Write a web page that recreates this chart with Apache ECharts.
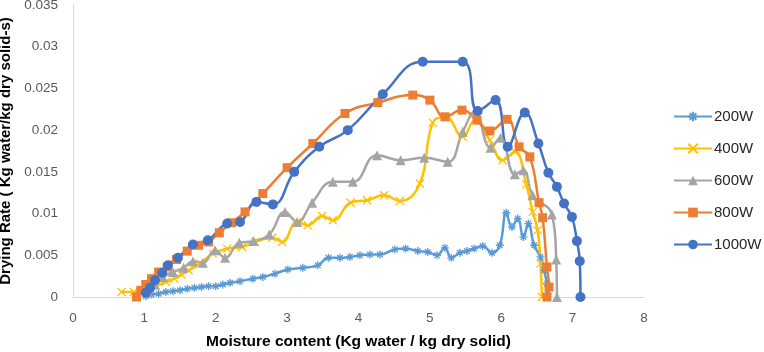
<!DOCTYPE html>
<html>
<head>
<meta charset="utf-8">
<script src="https://cdn.jsdelivr.net/npm/echarts@6/dist/echarts.min.js"></script>
<style>
  html, body { margin: 0; padding: 0; background: #fff; }
  #chart { width: 764px; height: 352px; }
</style>
</head>
<body>
<div id="chart"></div>
<script>
// moisture content (x) and drying rate (y) for each power level
var m200 = [1.02,1.1,1.2,1.3,1.4,1.5,1.6,1.7,1.8,1.9,2.0,2.1,2.2,2.34,2.52,2.66,2.83,3.01,3.22,3.43,3.58,3.74,3.88,4.02,4.16,4.30,4.51,4.66,4.83,4.97,5.10,5.21,5.30,5.42,5.52,5.62,5.74,5.87,5.98,6.07,6.15,6.23,6.31,6.38,6.46,6.55,6.60,6.64,6.65];
var r200 = [0.0001,0.0003,0.0004,0.0006,0.0007,0.0008,0.001,0.0011,0.0012,0.0013,0.0013,0.0015,0.0017,0.0019,0.0022,0.0024,0.0028,0.0033,0.0035,0.0038,0.0047,0.0047,0.0048,0.005,0.0051,0.0051,0.0057,0.0058,0.0055,0.0054,0.005,0.0059,0.0047,0.0053,0.0055,0.0058,0.0061,0.0053,0.0062,0.0101,0.0084,0.0094,0.0072,0.0088,0.0062,0.0048,0.0032,0.0016,0.0004];

var m400 = [0.68,0.85,1.0,1.15,1.3,1.42,1.52,1.62,1.78,1.96,2.16,2.37,2.55,2.79,2.93,3.14,3.29,3.49,3.64,3.89,4.12,4.36,4.58,4.86,5.04,5.22,5.46,5.63,5.84,6.02,6.19,6.35,6.44,6.51,6.55,6.57];
var r400 = [0.0006,0.0006,0.0008,0.0013,0.0018,0.0022,0.0027,0.0032,0.004,0.0052,0.0058,0.006,0.0066,0.0071,0.0066,0.009,0.0086,0.0097,0.0092,0.0113,0.0116,0.0122,0.0115,0.0136,0.0209,0.0216,0.0192,0.0212,0.0188,0.0164,0.0174,0.0135,0.0102,0.008,0.004,0];

var m600 = [1.05,1.15,1.26,1.4,1.55,1.68,1.82,1.99,2.13,2.33,2.53,2.75,2.97,3.14,3.35,3.64,3.92,4.26,4.59,4.92,5.25,5.46,5.63,5.85,5.99,6.19,6.31,6.44,6.71,6.77,6.78];
var r600 = [0.0005,0.0015,0.0024,0.003,0.0035,0.0043,0.0041,0.0056,0.0047,0.0065,0.0067,0.0075,0.0102,0.009,0.0113,0.0138,0.0138,0.017,0.0164,0.0167,0.0162,0.0198,0.0222,0.0179,0.0191,0.0147,0.0152,0.0122,0.0099,0.0045,0];

var m800 = [0.89,0.95,1.02,1.1,1.2,1.32,1.45,1.6,1.76,1.9,2.05,2.22,2.41,2.66,3.0,3.36,3.81,4.27,4.76,5.0,5.21,5.45,5.66,5.84,6.08,6.25,6.40,6.53,6.58,6.64,6.67,6.64];
var r800 = [0,0.0008,0.0015,0.0022,0.003,0.0036,0.0045,0.0055,0.0062,0.0066,0.0077,0.0089,0.0102,0.0124,0.0155,0.0184,0.022,0.0233,0.0242,0.0236,0.0216,0.0224,0.0212,0.0199,0.0213,0.018,0.0168,0.0113,0.0095,0.0036,0.0012,0];

var m1000 = [1.02,1.08,1.15,1.25,1.33,1.47,1.68,1.89,2.16,2.34,2.57,2.8,3.1,3.45,3.85,4.34,4.9,5.46,5.67,5.92,6.09,6.33,6.52,6.66,6.78,6.88,6.99,7.06,7.1,7.11];
var r1000 = [0.0005,0.0011,0.002,0.0029,0.0038,0.0047,0.0063,0.0068,0.0088,0.009,0.0114,0.0111,0.015,0.018,0.02,0.0243,0.0282,0.0282,0.0223,0.0236,0.018,0.0221,0.0184,0.0149,0.0132,0.0112,0.0096,0.0067,0.0043,0];

var seriesNames = ['200W', '400W', '600W', '800W', '1000W'];
var colors = ['#5B9BD5', '#FFC000', '#A5A5A5', '#ED7D31', '#4472C4'];

function pairs(xs, ys) {
  return xs.map(function (x, i) { return [x, ys[i]]; });
}

var star = 'path://M5,0L5,10M0,5L10,5M1.5,1.5L8.5,8.5M8.5,1.5L1.5,8.5';
var cross = 'path://M0,0L10,10M10,0L0,10';

function makeSeries(name, color, data, symbol, size, stroke) {
  return {
    name: name,
    type: 'line',
    data: data,
    smooth: 0.45,
    symbol: symbol,
    symbolSize: size,
    lineStyle: { color: color, width: 2.5 },
    itemStyle: {
      color: color,
      borderColor: color,
      borderWidth: stroke ? 1.3 : 0
    },
    emphasis: { disabled: true }
  };
}

var myChart = echarts.init(document.getElementById('chart'));
myChart.setOption({
  animation: false,
  textStyle: { fontFamily: 'Liberation Sans, Arial, sans-serif' },
  grid: { left: 73, right: 120, top: 5, bottom: 55, containLabel: false, outerBoundsMode: 'none' },
  legend: {
    orient: 'vertical',
    left: 668,
    top: 104,
    itemWidth: 38,
    itemHeight: 12,
    itemGap: 17,
    textStyle: { fontSize: 15, color: '#262626', padding: [0, 0, 0, -3] },
    data: seriesNames
  },
  xAxis: {
    type: 'value',
    min: 0,
    max: 8,
    interval: 1,
    name: 'Moisture content (Kg water / kg dry solid)',
    nameLocation: 'middle',
    nameGap: 37,
    nameTextStyle: { fontSize: 15.5, fontWeight: 'bold', color: '#000' },
    axisLine: { lineStyle: { color: '#D9D9D9', width: 1 } },
    axisTick: { show: false },
    splitLine: { show: false },
    axisLabel: { color: '#595959', fontSize: 13.5, margin: 14 }
  },
  yAxis: {
    type: 'value',
    min: 0,
    max: 0.035,
    interval: 0.005,
    name: 'Drying Rate ( Kg water/kg dry solid-s)',
    nameLocation: 'middle',
    nameGap: 52,
    nameTextStyle: { fontSize: 15, fontWeight: 'bold', color: '#000' },
    axisLine: { show: true, lineStyle: { color: '#D9D9D9', width: 1 } },
    axisTick: { show: false },
    splitLine: { show: false },
    axisLabel: {
      color: '#595959',
      fontSize: 13.5,
      margin: 15,
      formatter: function (v) { return String(parseFloat(v.toFixed(3))); }
    }
  },
  series: [
    makeSeries('200W', colors[0], pairs(m200, r200), star, 8, true),
    makeSeries('400W', colors[1], pairs(m400, r400), cross, 8, true),
    makeSeries('600W', colors[2], pairs(m600, r600), 'triangle', 10, false),
    makeSeries('800W', colors[3], pairs(m800, r800), 'rect', 9, false),
    makeSeries('1000W', colors[4], pairs(m1000, r1000), 'circle', 10, false)
  ]
});
window.onresize = function () {
  myChart.resize();
};
</script>
</body>
</html>
